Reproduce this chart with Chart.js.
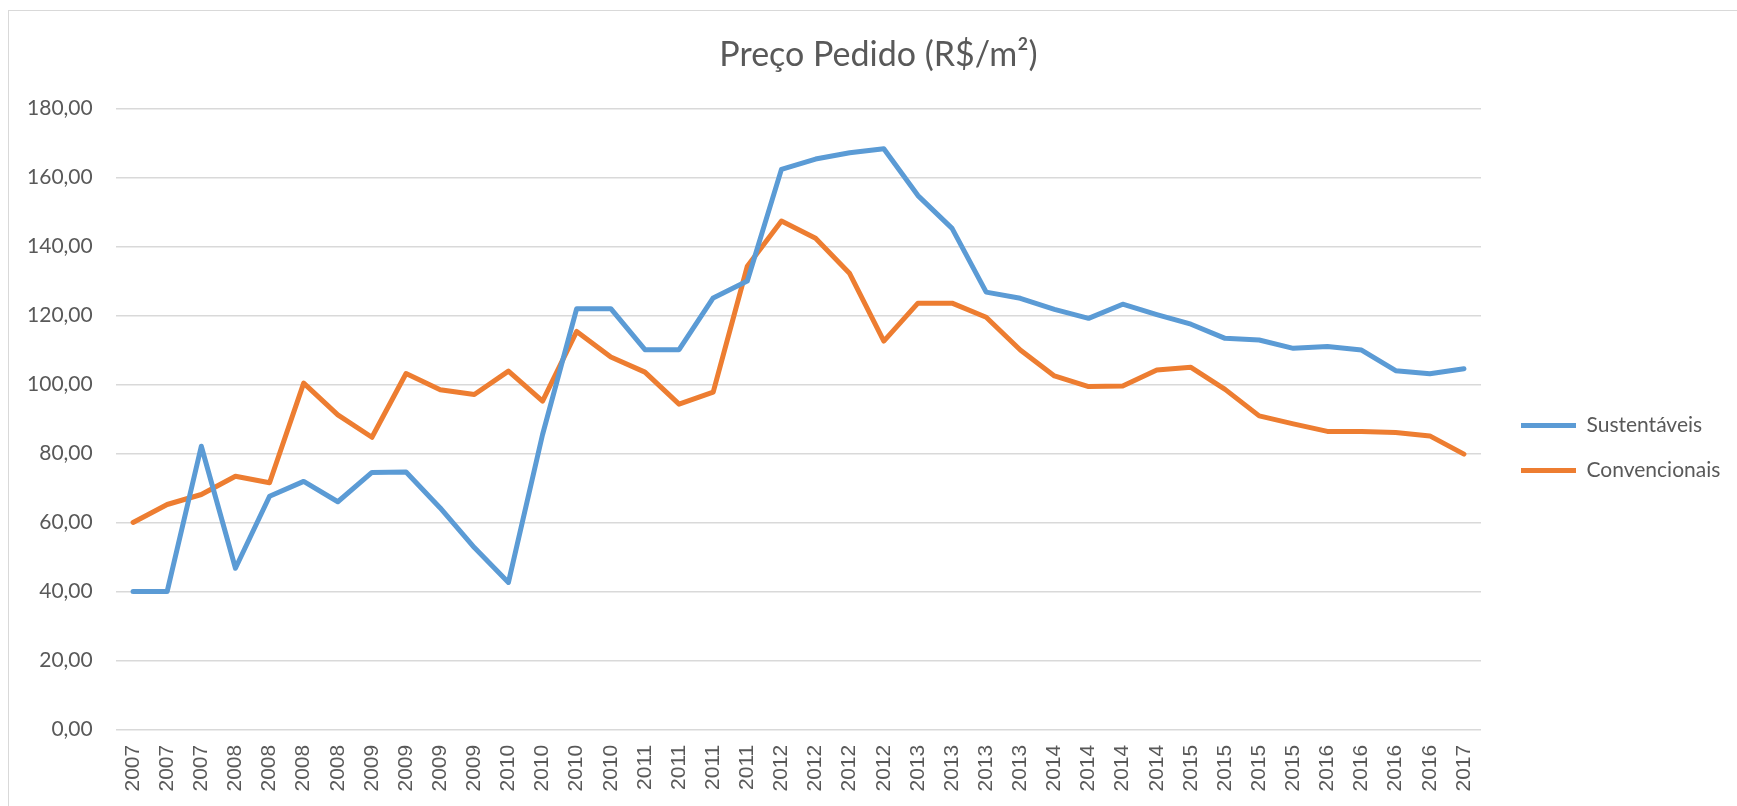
<!DOCTYPE html>
<html>
<head>
<meta charset="utf-8">
<script src="https://cdn.jsdelivr.net/npm/chart.js@4.4.1/dist/chart.umd.min.js"></script>
<style>
  html, body { margin: 0; padding: 0; background: #ffffff; overflow: hidden; }
  #wrap { position: relative; width: 1737px; height: 806px; }
  #frame { position: absolute; left: 8px; top: 10px; width: 1800px; height: 900px;
           border: 1.5px solid #d9d9d9; pointer-events: none; }
  canvas { position: absolute; left: 0; top: 0; }
</style>
</head>
<body>
<div id="wrap">
  <canvas id="c" width="1737" height="806"></canvas>
  <div id="frame"></div>
</div>
<script>
// ---- data ----
const categories = [
  '2007','2007','2007',
  '2008','2008','2008','2008',
  '2009','2009','2009','2009',
  '2010','2010','2010','2010',
  '2011','2011','2011','2011',
  '2012','2012','2012','2012',
  '2013','2013','2013','2013',
  '2014','2014','2014','2014',
  '2015','2015','2015','2015',
  '2016','2016','2016','2016',
  '2017'
];
const sustentaveis = [
  40.0, 40.0, 82.1, 46.7, 67.6, 71.9, 66.0, 74.5, 74.6, 64.2,
  52.7, 42.6, 85.5, 122.0, 122.0, 110.1, 110.1, 125.1, 130.0, 162.4,
  165.4, 167.2, 168.4, 154.8, 145.3, 126.8, 125.0, 121.8, 119.2, 123.3,
  120.3, 117.5, 113.4, 112.9, 110.5, 111.0, 110.0, 104.0, 103.1, 104.6
];
const convencionais = [
  60.0, 65.2, 68.1, 73.4, 71.5, 100.4, 91.2, 84.7, 103.2, 98.5,
  97.1, 103.9, 95.2, 115.4, 108.0, 103.6, 94.3, 97.8, 134.3, 147.4,
  142.4, 132.2, 112.6, 123.6, 123.6, 119.5, 110.0, 102.5, 99.4, 99.6,
  104.2, 105.0, 98.6, 90.9, 88.6, 86.4, 86.4, 86.1, 85.1, 79.8
];
const seriesNames = ['Sustentáveis', 'Convencionais'];
const yTicks = [0, 20, 40, 60, 80, 100, 120, 140, 160, 180];
const chartTitle = 'Preço Pedido (R$/m²)';

// ---- layout ----
const PLOT_LEFT = 116;
const LEGEND_LEFT = 1497;
let padL = 30, padR = 10;
const textColor = '#595959';

const ctx = document.getElementById('c').getContext('2d');
const chart = new Chart(ctx, {
  type: 'line',
  data: {
    labels: categories,
    datasets: [
      { label: seriesNames[0], data: sustentaveis, borderColor: '#5B9BD5', backgroundColor: '#5B9BD5',
        borderWidth: 5, pointRadius: 0, pointHoverRadius: 0, tension: 0,
        borderJoinStyle: 'round', borderCapStyle: 'round', fill: false, yAxisID: 'y' },
      { label: seriesNames[1], data: convencionais, borderColor: '#ED7D31', backgroundColor: '#ED7D31',
        borderWidth: 5, pointRadius: 0, pointHoverRadius: 0, tension: 0,
        borderJoinStyle: 'round', borderCapStyle: 'round', fill: false, yAxisID: 'y' }
    ]
  },
  options: {
    responsive: false,
    animation: false,
    devicePixelRatio: 1,
    layout: { padding: { left: padL, right: padR, top: 0, bottom: 0 } },
    plugins: {
      tooltip: { enabled: false },
      title: {
        display: true,
        text: chartTitle,
        color: textColor,
        font: { family: 'Lato', size: 34, weight: '400', lineHeight: 1.2 },
        padding: { top: 35, bottom: 32.9 }
      },
      legend: {
        display: true,
        position: 'right',
        align: 'start',
        title: { display: true, text: ' ', font: { size: 10, lineHeight: 1.2 }, padding: { top: 379, bottom: 0 } },
        labels: {
          usePointStyle: true,
          pointStyle: 'line',
          pointStyleWidth: 55,
          padding: 24,
          color: textColor,
          font: { family: 'Lato', size: 21 }
        }
      }
    },
    scales: {
      x: {
        type: 'category',
        offset: true,
        grid: { display: false, drawTicks: false },
        border: { display: false },
        ticks: {
          autoSkip: false, minRotation: 90, maxRotation: 90, padding: 15.5,
          color: textColor, font: { family: 'Liberation Sans', size: 21 }
        },
        afterFit: (s) => { s.height = 76.7; }
      },
      y: {
        position: 'left',
        min: 0, max: 180,
        afterBuildTicks: (s) => { s.ticks = yTicks.map(v => ({ value: v })); },
        grid: { color: '#d9d9d9', lineWidth: 1.5, drawTicks: false },
        border: { display: false },
        ticks: {
          padding: 23.3, color: textColor, font: { family: 'Lato', size: 21 },
          callback: (v) => Number(v).toFixed(2).replace('.', ',')
        },
        afterFit: (s) => { s.width = PLOT_LEFT - padL; }
      },
      yR: {
        position: 'right',
        display: true,
        grid: { display: false, drawTicks: false },
        border: { display: false },
        ticks: { display: false },
        afterFit: (s) => { s.width = 16; }
      }
    }
  }
});

// adjust padding so the legend and title sit where the reference has them
const W = chart.legend.width;
padR = Math.max(0, 1737 - LEGEND_LEFT - W);
padL = padR + 20;
chart.options.layout.padding = { left: padL, right: padR, top: 0, bottom: 0 };
chart.update('none');
</script>
</body>
</html>
